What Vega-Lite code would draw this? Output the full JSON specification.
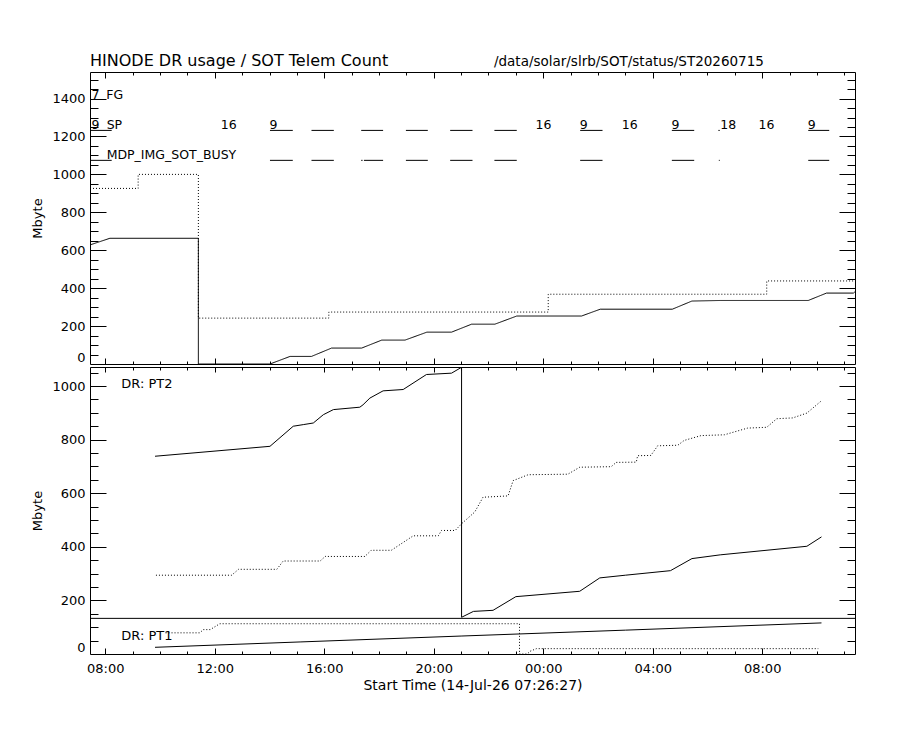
{
  "$schema": "https://vega.github.io/schema/vega-lite/v6.json",
  "background": "white",
  "padding": {"left": 31, "top": 52, "right": 10, "bottom": 10},
  "spacing": 1,
  "resolve": {"scale": {"x": "shared"}},
  "datasets": {
    "usage": [
      {"i": 1, "s": "solid", "t": "2026-07-14T07:26:27", "v": 628},
      {"i": 2, "s": "solid", "t": "2026-07-14T08:10:00", "v": 663},
      {"i": 3, "s": "solid", "t": "2026-07-14T11:24:00", "v": 663},
      {"i": 4, "s": "solid", "t": "2026-07-14T11:24:00", "v": 0},
      {"i": 5, "s": "solid", "t": "2026-07-14T14:01:00", "v": 0},
      {"i": 6, "s": "solid", "t": "2026-07-14T14:45:00", "v": 40},
      {"i": 7, "s": "solid", "t": "2026-07-14T15:32:00", "v": 40},
      {"i": 8, "s": "solid", "t": "2026-07-14T16:16:00", "v": 84},
      {"i": 9, "s": "solid", "t": "2026-07-14T17:22:00", "v": 84},
      {"i": 10, "s": "solid", "t": "2026-07-14T18:06:00", "v": 126},
      {"i": 11, "s": "solid", "t": "2026-07-14T18:57:00", "v": 126},
      {"i": 12, "s": "solid", "t": "2026-07-14T19:45:00", "v": 168},
      {"i": 13, "s": "solid", "t": "2026-07-14T20:39:00", "v": 168},
      {"i": 14, "s": "solid", "t": "2026-07-14T21:23:00", "v": 210},
      {"i": 15, "s": "solid", "t": "2026-07-14T22:14:00", "v": 210},
      {"i": 16, "s": "solid", "t": "2026-07-14T23:02:00", "v": 253},
      {"i": 17, "s": "solid", "t": "2026-07-15T01:24:00", "v": 253},
      {"i": 18, "s": "solid", "t": "2026-07-15T02:05:00", "v": 289},
      {"i": 19, "s": "solid", "t": "2026-07-15T04:43:00", "v": 289},
      {"i": 20, "s": "solid", "t": "2026-07-15T05:26:00", "v": 332},
      {"i": 21, "s": "solid", "t": "2026-07-15T06:28:00", "v": 335},
      {"i": 22, "s": "solid", "t": "2026-07-15T09:41:00", "v": 335},
      {"i": 23, "s": "solid", "t": "2026-07-15T10:21:00", "v": 374},
      {"i": 24, "s": "solid", "t": "2026-07-15T11:20:00", "v": 374},
      {"i": 25, "s": "solid", "t": "2026-07-15T11:23:30", "v": 381},
      {"i": 1, "s": "dotted", "t": "2026-07-14T07:26:27", "v": 926},
      {"i": 2, "s": "dotted", "t": "2026-07-14T09:12:00", "v": 926},
      {"i": 3, "s": "dotted", "t": "2026-07-14T09:12:00", "v": 1000},
      {"i": 4, "s": "dotted", "t": "2026-07-14T11:24:00", "v": 1000},
      {"i": 5, "s": "dotted", "t": "2026-07-14T11:24:00", "v": 242},
      {"i": 6, "s": "dotted", "t": "2026-07-14T16:10:00", "v": 242},
      {"i": 7, "s": "dotted", "t": "2026-07-14T16:10:00", "v": 274},
      {"i": 8, "s": "dotted", "t": "2026-07-15T00:11:00", "v": 274},
      {"i": 9, "s": "dotted", "t": "2026-07-15T00:11:00", "v": 368},
      {"i": 10, "s": "dotted", "t": "2026-07-15T08:10:00", "v": 368},
      {"i": 11, "s": "dotted", "t": "2026-07-15T08:10:00", "v": 438},
      {"i": 12, "s": "dotted", "t": "2026-07-15T11:23:30", "v": 438}
    ],
    "spans": [
      {"row": "SP", "t": "2026-07-14T07:26:27", "t2": "2026-07-14T08:14:00", "v": 1232},
      {"row": "SP", "t": "2026-07-14T14:01:00", "t2": "2026-07-14T14:51:00", "v": 1232},
      {"row": "SP", "t": "2026-07-14T15:32:00", "t2": "2026-07-14T16:21:00", "v": 1232},
      {"row": "SP", "t": "2026-07-14T17:21:00", "t2": "2026-07-14T18:09:00", "v": 1232},
      {"row": "SP", "t": "2026-07-14T18:59:00", "t2": "2026-07-14T19:47:00", "v": 1232},
      {"row": "SP", "t": "2026-07-14T20:36:00", "t2": "2026-07-14T21:25:00", "v": 1232},
      {"row": "SP", "t": "2026-07-14T22:13:00", "t2": "2026-07-14T23:02:00", "v": 1232},
      {"row": "SP", "t": "2026-07-15T01:21:00", "t2": "2026-07-15T02:10:00", "v": 1232},
      {"row": "SP", "t": "2026-07-15T04:42:00", "t2": "2026-07-15T05:31:00", "v": 1232},
      {"row": "SP", "t": "2026-07-15T06:24:00", "t2": "2026-07-15T06:27:00", "v": 1232},
      {"row": "SP", "t": "2026-07-15T09:41:00", "t2": "2026-07-15T10:27:00", "v": 1232},
      {"row": "BUSY", "t": "2026-07-14T07:26:27", "t2": "2026-07-14T08:14:00", "v": 1074},
      {"row": "BUSY", "t": "2026-07-14T14:01:00", "t2": "2026-07-14T14:51:00", "v": 1074},
      {"row": "BUSY", "t": "2026-07-14T15:32:00", "t2": "2026-07-14T16:21:00", "v": 1074},
      {"row": "BUSY", "t": "2026-07-14T17:21:00", "t2": "2026-07-14T17:24:00", "v": 1074},
      {"row": "BUSY", "t": "2026-07-14T17:27:00", "t2": "2026-07-14T18:09:00", "v": 1074},
      {"row": "BUSY", "t": "2026-07-14T18:59:00", "t2": "2026-07-14T19:47:00", "v": 1074},
      {"row": "BUSY", "t": "2026-07-14T20:36:00", "t2": "2026-07-14T21:25:00", "v": 1074},
      {"row": "BUSY", "t": "2026-07-14T22:13:00", "t2": "2026-07-14T23:02:00", "v": 1074},
      {"row": "BUSY", "t": "2026-07-15T01:21:00", "t2": "2026-07-15T02:10:00", "v": 1074},
      {"row": "BUSY", "t": "2026-07-15T04:42:00", "t2": "2026-07-15T05:31:00", "v": 1074},
      {"row": "BUSY", "t": "2026-07-15T06:25:00", "t2": "2026-07-15T06:27:00", "v": 1074},
      {"row": "BUSY", "t": "2026-07-15T09:41:00", "t2": "2026-07-15T10:27:00", "v": 1074}
    ],
    "counts": [
      {"txt": "7", "t": "2026-07-14T07:29:30", "v": 1395},
      {"txt": "9", "t": "2026-07-14T07:29:30", "v": 1238},
      {"txt": "16", "t": "2026-07-14T12:13:00", "v": 1238},
      {"txt": "9", "t": "2026-07-14T14:00:00", "v": 1238},
      {"txt": "16", "t": "2026-07-14T23:43:00", "v": 1238},
      {"txt": "9", "t": "2026-07-15T01:20:00", "v": 1238},
      {"txt": "16", "t": "2026-07-15T02:52:00", "v": 1238},
      {"txt": "9", "t": "2026-07-15T04:41:00", "v": 1238},
      {"txt": "18", "t": "2026-07-15T06:28:00", "v": 1238},
      {"txt": "16", "t": "2026-07-15T07:52:00", "v": 1238},
      {"txt": "9", "t": "2026-07-15T09:40:00", "v": 1238},
      {"txt": "FG", "t": "2026-07-14T08:02:00", "v": 1395},
      {"txt": "SP", "t": "2026-07-14T08:03:00", "v": 1238},
      {"txt": "MDP_IMG_SOT_BUSY", "t": "2026-07-14T08:03:00", "v": 1081}
    ],
    "heading": [
      {"txt": "HINODE DR usage / SOT Telem Count", "t": "2026-07-14T07:26:27", "v": 1570}
    ],
    "filepath": [
      {"txt": "/data/solar/slrb/SOT/status/ST20260715", "t": "2026-07-14T22:12:00", "v": 1570}
    ],
    "drdata": [
      {"i": 1, "s": "pt2_solid", "t": "2026-07-14T09:49:00", "v": 738},
      {"i": 2, "s": "pt2_solid", "t": "2026-07-14T14:01:00", "v": 775},
      {"i": 3, "s": "pt2_solid", "t": "2026-07-14T14:52:00", "v": 850},
      {"i": 4, "s": "pt2_solid", "t": "2026-07-14T15:14:00", "v": 856},
      {"i": 5, "s": "pt2_solid", "t": "2026-07-14T15:36:00", "v": 862},
      {"i": 6, "s": "pt2_solid", "t": "2026-07-14T15:58:00", "v": 893},
      {"i": 7, "s": "pt2_solid", "t": "2026-07-14T16:20:00", "v": 912},
      {"i": 8, "s": "pt2_solid", "t": "2026-07-14T17:18:00", "v": 921},
      {"i": 9, "s": "pt2_solid", "t": "2026-07-14T17:25:00", "v": 930},
      {"i": 10, "s": "pt2_solid", "t": "2026-07-14T17:40:00", "v": 955},
      {"i": 11, "s": "pt2_solid", "t": "2026-07-14T18:09:00", "v": 982},
      {"i": 12, "s": "pt2_solid", "t": "2026-07-14T18:53:00", "v": 987},
      {"i": 13, "s": "pt2_solid", "t": "2026-07-14T19:44:00", "v": 1043},
      {"i": 14, "s": "pt2_solid", "t": "2026-07-14T20:39:00", "v": 1048},
      {"i": 15, "s": "pt2_solid", "t": "2026-07-14T21:01:00", "v": 1070},
      {"i": 16, "s": "pt2_solid", "t": "2026-07-14T21:01:00", "v": 137},
      {"i": 17, "s": "pt2_solid", "t": "2026-07-14T21:27:00", "v": 159},
      {"i": 18, "s": "pt2_solid", "t": "2026-07-14T22:10:00", "v": 163},
      {"i": 19, "s": "pt2_solid", "t": "2026-07-14T23:00:00", "v": 214},
      {"i": 20, "s": "pt2_solid", "t": "2026-07-15T01:20:00", "v": 234},
      {"i": 21, "s": "pt2_solid", "t": "2026-07-15T02:04:00", "v": 284},
      {"i": 22, "s": "pt2_solid", "t": "2026-07-15T03:00:00", "v": 294},
      {"i": 23, "s": "pt2_solid", "t": "2026-07-15T04:39:00", "v": 311},
      {"i": 24, "s": "pt2_solid", "t": "2026-07-15T05:26:00", "v": 356},
      {"i": 25, "s": "pt2_solid", "t": "2026-07-15T06:28:00", "v": 370},
      {"i": 26, "s": "pt2_solid", "t": "2026-07-15T09:38:00", "v": 402},
      {"i": 27, "s": "pt2_solid", "t": "2026-07-15T10:10:00", "v": 437},
      {"i": 1, "s": "pt2_dot", "t": "2026-07-14T09:51:00", "v": 294},
      {"i": 2, "s": "pt2_dot", "t": "2026-07-14T12:37:00", "v": 294},
      {"i": 3, "s": "pt2_dot", "t": "2026-07-14T12:52:00", "v": 316},
      {"i": 4, "s": "pt2_dot", "t": "2026-07-14T14:16:00", "v": 316},
      {"i": 5, "s": "pt2_dot", "t": "2026-07-14T14:30:00", "v": 347},
      {"i": 6, "s": "pt2_dot", "t": "2026-07-14T15:51:00", "v": 347},
      {"i": 7, "s": "pt2_dot", "t": "2026-07-14T16:02:00", "v": 364},
      {"i": 8, "s": "pt2_dot", "t": "2026-07-14T17:29:00", "v": 364},
      {"i": 9, "s": "pt2_dot", "t": "2026-07-14T17:43:00", "v": 387},
      {"i": 10, "s": "pt2_dot", "t": "2026-07-14T18:27:00", "v": 387},
      {"i": 11, "s": "pt2_dot", "t": "2026-07-14T19:15:00", "v": 441},
      {"i": 12, "s": "pt2_dot", "t": "2026-07-14T20:10:00", "v": 441},
      {"i": 13, "s": "pt2_dot", "t": "2026-07-14T20:17:00", "v": 461},
      {"i": 14, "s": "pt2_dot", "t": "2026-07-14T20:47:00", "v": 461},
      {"i": 15, "s": "pt2_dot", "t": "2026-07-14T21:01:00", "v": 486},
      {"i": 16, "s": "pt2_dot", "t": "2026-07-14T21:30:00", "v": 530},
      {"i": 17, "s": "pt2_dot", "t": "2026-07-14T21:48:00", "v": 585},
      {"i": 18, "s": "pt2_dot", "t": "2026-07-14T22:43:00", "v": 590},
      {"i": 19, "s": "pt2_dot", "t": "2026-07-14T22:54:00", "v": 647},
      {"i": 20, "s": "pt2_dot", "t": "2026-07-14T23:27:00", "v": 669},
      {"i": 21, "s": "pt2_dot", "t": "2026-07-15T00:54:00", "v": 671},
      {"i": 22, "s": "pt2_dot", "t": "2026-07-15T01:20:00", "v": 697},
      {"i": 23, "s": "pt2_dot", "t": "2026-07-15T02:29:00", "v": 699},
      {"i": 24, "s": "pt2_dot", "t": "2026-07-15T02:40:00", "v": 715},
      {"i": 25, "s": "pt2_dot", "t": "2026-07-15T03:24:00", "v": 716},
      {"i": 26, "s": "pt2_dot", "t": "2026-07-15T03:27:00", "v": 740},
      {"i": 27, "s": "pt2_dot", "t": "2026-07-15T03:56:00", "v": 741},
      {"i": 28, "s": "pt2_dot", "t": "2026-07-15T04:11:00", "v": 777},
      {"i": 29, "s": "pt2_dot", "t": "2026-07-15T04:55:00", "v": 779},
      {"i": 30, "s": "pt2_dot", "t": "2026-07-15T05:09:00", "v": 797},
      {"i": 31, "s": "pt2_dot", "t": "2026-07-15T05:46:00", "v": 815},
      {"i": 32, "s": "pt2_dot", "t": "2026-07-15T06:37:00", "v": 818},
      {"i": 33, "s": "pt2_dot", "t": "2026-07-15T07:28:00", "v": 843},
      {"i": 34, "s": "pt2_dot", "t": "2026-07-15T08:10:00", "v": 846},
      {"i": 35, "s": "pt2_dot", "t": "2026-07-15T08:32:00", "v": 878},
      {"i": 36, "s": "pt2_dot", "t": "2026-07-15T09:07:00", "v": 881},
      {"i": 37, "s": "pt2_dot", "t": "2026-07-15T09:38:00", "v": 899},
      {"i": 38, "s": "pt2_dot", "t": "2026-07-15T10:10:00", "v": 945},
      {"i": 1, "s": "pt1_solid", "t": "2026-07-14T09:49:00", "v": 25},
      {"i": 2, "s": "pt1_solid", "t": "2026-07-14T15:07:00", "v": 45},
      {"i": 3, "s": "pt1_solid", "t": "2026-07-14T21:00:00", "v": 67},
      {"i": 4, "s": "pt1_solid", "t": "2026-07-15T03:00:00", "v": 89},
      {"i": 5, "s": "pt1_solid", "t": "2026-07-15T10:10:00", "v": 116},
      {"i": 1, "s": "pt1_dot", "t": "2026-07-14T10:12:00", "v": 79},
      {"i": 2, "s": "pt1_dot", "t": "2026-07-14T11:27:00", "v": 79},
      {"i": 3, "s": "pt1_dot", "t": "2026-07-14T11:35:00", "v": 91},
      {"i": 4, "s": "pt1_dot", "t": "2026-07-14T11:50:00", "v": 91},
      {"i": 5, "s": "pt1_dot", "t": "2026-07-14T12:11:00", "v": 113},
      {"i": 6, "s": "pt1_dot", "t": "2026-07-14T23:08:00", "v": 113},
      {"i": 7, "s": "pt1_dot", "t": "2026-07-14T23:08:00", "v": 0},
      {"i": 8, "s": "pt1_dot", "t": "2026-07-14T23:25:00", "v": 0},
      {"i": 9, "s": "pt1_dot", "t": "2026-07-14T23:31:00", "v": 10},
      {"i": 10, "s": "pt1_dot", "t": "2026-07-14T23:45:00", "v": 20},
      {"i": 11, "s": "pt1_dot", "t": "2026-07-15T10:03:00", "v": 20}
    ],
    "divider": [{"v": 133}],
    "drlab": [
      {"txt": "DR: PT2", "t": "2026-07-14T08:35:00", "v": 994},
      {"txt": "DR: PT1", "t": "2026-07-14T08:35:00", "v": 52}
    ]
  },
  "vconcat": [
    {
      "width": 765,
      "height": 292,
      "resolve": {"axis": {"x": "independent", "y": "independent"}},
      "layer": [
        {
          "data": {"name": "usage"},
          "mark": {"type": "line", "color": "black", "strokeWidth": 1, "clip": true},
          "encoding": {
            "x": {"field": "t", "type": "temporal", "scale": {"nice": false},
              "axis": {"orient": "bottom", "labels": false, "title": null, "tickSize": -6, "values": [
                {"year": 2026, "month": 7, "date": 14, "hours": 8}, {"year": 2026, "month": 7, "date": 14, "hours": 12},
                {"year": 2026, "month": 7, "date": 14, "hours": 16}, {"year": 2026, "month": 7, "date": 14, "hours": 20},
                {"year": 2026, "month": 7, "date": 15, "hours": 0}, {"year": 2026, "month": 7, "date": 15, "hours": 4},
                {"year": 2026, "month": 7, "date": 15, "hours": 8}]}},
            "y": {"field": "v", "type": "quantitative",
              "scale": {"domain": [0, 1540], "nice": false, "zero": false},
              "axis": {"orient": "left", "values": [0, 200, 400, 600, 800, 1000, 1200, 1400], "format": "d", "ticks": false, "labelPadding": 5, "labelFlush": true, "title": "Mbyte", "titlePadding": 7}},
            "strokeDash": {"field": "s", "type": "nominal", "scale": {"domain": ["solid", "dotted"], "range": [[1, 0], [1, 2]]}, "legend": null},
            "order": {"field": "i", "type": "quantitative"}
          }
        },
        {
          "data": {"name": "spans", "format": {"parse": {"t": "date", "t2": "date"}}},
          "mark": {"type": "rule", "color": "black", "strokeWidth": 1},
          "encoding": {
            "x": {"field": "t", "type": "temporal",
              "axis": {"orient": "bottom", "labels": false, "title": null, "tickSize": -3, "values": [
                {"year": 2026, "month": 7, "date": 14, "hours": 8}, {"year": 2026, "month": 7, "date": 14, "hours": 9},
                {"year": 2026, "month": 7, "date": 14, "hours": 10}, {"year": 2026, "month": 7, "date": 14, "hours": 11},
                {"year": 2026, "month": 7, "date": 14, "hours": 12}, {"year": 2026, "month": 7, "date": 14, "hours": 13},
                {"year": 2026, "month": 7, "date": 14, "hours": 14}, {"year": 2026, "month": 7, "date": 14, "hours": 15},
                {"year": 2026, "month": 7, "date": 14, "hours": 16}, {"year": 2026, "month": 7, "date": 14, "hours": 17},
                {"year": 2026, "month": 7, "date": 14, "hours": 18}, {"year": 2026, "month": 7, "date": 14, "hours": 19},
                {"year": 2026, "month": 7, "date": 14, "hours": 20}, {"year": 2026, "month": 7, "date": 14, "hours": 21},
                {"year": 2026, "month": 7, "date": 14, "hours": 22}, {"year": 2026, "month": 7, "date": 14, "hours": 23},
                {"year": 2026, "month": 7, "date": 15, "hours": 0}, {"year": 2026, "month": 7, "date": 15, "hours": 1},
                {"year": 2026, "month": 7, "date": 15, "hours": 2}, {"year": 2026, "month": 7, "date": 15, "hours": 3},
                {"year": 2026, "month": 7, "date": 15, "hours": 4}, {"year": 2026, "month": 7, "date": 15, "hours": 5},
                {"year": 2026, "month": 7, "date": 15, "hours": 6}, {"year": 2026, "month": 7, "date": 15, "hours": 7},
                {"year": 2026, "month": 7, "date": 15, "hours": 8}, {"year": 2026, "month": 7, "date": 15, "hours": 9},
                {"year": 2026, "month": 7, "date": 15, "hours": 10}, {"year": 2026, "month": 7, "date": 15, "hours": 11}]}},
            "x2": {"field": "t2"},
            "y": {"field": "v", "type": "quantitative",
              "axis": {"orient": "left", "values": [200, 400, 600, 800, 1000, 1200, 1400], "labels": false, "tickSize": -16, "title": null}}
          }
        },
        {
          "data": {"name": "counts"},
          "mark": {"type": "text", "align": "left", "baseline": "alphabetic", "font": "DejaVu Sans", "fontSize": 12.5, "color": "black"},
          "encoding": {
            "x": {"field": "t", "type": "temporal",
              "axis": {"orient": "top", "labels": false, "title": null, "tickSize": -6, "values": [
                {"year": 2026, "month": 7, "date": 14, "hours": 8}, {"year": 2026, "month": 7, "date": 14, "hours": 12},
                {"year": 2026, "month": 7, "date": 14, "hours": 16}, {"year": 2026, "month": 7, "date": 14, "hours": 20},
                {"year": 2026, "month": 7, "date": 15, "hours": 0}, {"year": 2026, "month": 7, "date": 15, "hours": 4},
                {"year": 2026, "month": 7, "date": 15, "hours": 8}]}},
            "y": {"field": "v", "type": "quantitative",
              "axis": {"orient": "left", "values": [50, 100, 150, 250, 300, 350, 450, 500, 550, 650, 700, 750, 850, 900, 950, 1050, 1100, 1150, 1250, 1300, 1350, 1450, 1500], "labels": false, "tickSize": -8, "title": null}},
            "text": {"field": "txt"}
          }
        },
        {
          "data": {"name": "heading"},
          "mark": {"type": "text", "align": "left", "baseline": "alphabetic", "font": "DejaVu Sans", "fontSize": 16, "color": "black"},
          "encoding": {
            "x": {"field": "t", "type": "temporal",
              "axis": {"orient": "top", "labels": false, "title": null, "tickSize": -3, "values": [
                {"year": 2026, "month": 7, "date": 14, "hours": 8}, {"year": 2026, "month": 7, "date": 14, "hours": 9},
                {"year": 2026, "month": 7, "date": 14, "hours": 10}, {"year": 2026, "month": 7, "date": 14, "hours": 11},
                {"year": 2026, "month": 7, "date": 14, "hours": 12}, {"year": 2026, "month": 7, "date": 14, "hours": 13},
                {"year": 2026, "month": 7, "date": 14, "hours": 14}, {"year": 2026, "month": 7, "date": 14, "hours": 15},
                {"year": 2026, "month": 7, "date": 14, "hours": 16}, {"year": 2026, "month": 7, "date": 14, "hours": 17},
                {"year": 2026, "month": 7, "date": 14, "hours": 18}, {"year": 2026, "month": 7, "date": 14, "hours": 19},
                {"year": 2026, "month": 7, "date": 14, "hours": 20}, {"year": 2026, "month": 7, "date": 14, "hours": 21},
                {"year": 2026, "month": 7, "date": 14, "hours": 22}, {"year": 2026, "month": 7, "date": 14, "hours": 23},
                {"year": 2026, "month": 7, "date": 15, "hours": 0}, {"year": 2026, "month": 7, "date": 15, "hours": 1},
                {"year": 2026, "month": 7, "date": 15, "hours": 2}, {"year": 2026, "month": 7, "date": 15, "hours": 3},
                {"year": 2026, "month": 7, "date": 15, "hours": 4}, {"year": 2026, "month": 7, "date": 15, "hours": 5},
                {"year": 2026, "month": 7, "date": 15, "hours": 6}, {"year": 2026, "month": 7, "date": 15, "hours": 7},
                {"year": 2026, "month": 7, "date": 15, "hours": 8}, {"year": 2026, "month": 7, "date": 15, "hours": 9},
                {"year": 2026, "month": 7, "date": 15, "hours": 10}, {"year": 2026, "month": 7, "date": 15, "hours": 11}]}},
            "y": {"field": "v", "type": "quantitative",
              "axis": {"orient": "right", "values": [200, 400, 600, 800, 1000, 1200, 1400], "labels": false, "tickSize": -16, "title": null}},
            "text": {"field": "txt"}
          }
        },
        {
          "data": {"name": "filepath"},
          "mark": {"type": "text", "align": "left", "baseline": "alphabetic", "font": "DejaVu Sans", "fontSize": 13.5, "color": "black"},
          "encoding": {
            "x": {"field": "t", "type": "temporal", "axis": null},
            "y": {"field": "v", "type": "quantitative",
              "axis": {"orient": "right", "values": [50, 100, 150, 250, 300, 350, 450, 500, 550, 650, 700, 750, 850, 900, 950, 1050, 1100, 1150, 1250, 1300, 1350, 1450, 1500], "labels": false, "tickSize": -8, "title": null}},
            "text": {"field": "txt"}
          }
        }
      ]
    },
    {
      "width": 765,
      "height": 287,
      "resolve": {"axis": {"x": "independent", "y": "independent"}},
      "layer": [
        {
          "data": {"name": "drdata"},
          "transform": [{"filter": "datum.s == 'pt2_solid'"}],
          "mark": {"type": "line", "color": "black", "strokeWidth": 1, "clip": true},
          "encoding": {
            "x": {"field": "t", "type": "temporal", "scale": {"nice": false},
              "axis": {"orient": "bottom", "format": "%H:%M", "ticks": false, "labelPadding": 8, "title": "Start Time (14-Jul-26 07:26:27)", "titleFontSize": 14, "titlePadding": 3, "values": [
                {"year": 2026, "month": 7, "date": 14, "hours": 8}, {"year": 2026, "month": 7, "date": 14, "hours": 12},
                {"year": 2026, "month": 7, "date": 14, "hours": 16}, {"year": 2026, "month": 7, "date": 14, "hours": 20},
                {"year": 2026, "month": 7, "date": 15, "hours": 0}, {"year": 2026, "month": 7, "date": 15, "hours": 4},
                {"year": 2026, "month": 7, "date": 15, "hours": 8}]}},
            "y": {"field": "v", "type": "quantitative",
              "scale": {"domain": [0, 1071], "nice": false},
              "axis": {"orient": "left", "values": [0, 200, 400, 600, 800, 1000], "format": "d", "ticks": false, "labelPadding": 5, "labelFlush": true, "title": "Mbyte", "titlePadding": 7}},
            "order": {"field": "i", "type": "quantitative"}
          }
        },
        {
          "data": {"name": "drdata"},
          "transform": [{"filter": "datum.s == 'pt2_dot'"}],
          "mark": {"type": "line", "color": "black", "strokeWidth": 1, "strokeDash": [1, 2], "clip": true},
          "encoding": {
            "x": {"field": "t", "type": "temporal",
              "axis": {"orient": "bottom", "labels": false, "title": null, "tickSize": -6, "values": [
                {"year": 2026, "month": 7, "date": 14, "hours": 8}, {"year": 2026, "month": 7, "date": 14, "hours": 12},
                {"year": 2026, "month": 7, "date": 14, "hours": 16}, {"year": 2026, "month": 7, "date": 14, "hours": 20},
                {"year": 2026, "month": 7, "date": 15, "hours": 0}, {"year": 2026, "month": 7, "date": 15, "hours": 4},
                {"year": 2026, "month": 7, "date": 15, "hours": 8}]}},
            "y": {"field": "v", "type": "quantitative",
              "axis": {"orient": "left", "values": [200, 400, 600, 800, 1000], "labels": false, "tickSize": -16, "title": null}},
            "order": {"field": "i", "type": "quantitative"}
          }
        },
        {
          "data": {"name": "drdata"},
          "transform": [{"filter": "datum.s == 'pt1_solid'"}],
          "mark": {"type": "line", "color": "black", "strokeWidth": 1, "clip": true},
          "encoding": {
            "x": {"field": "t", "type": "temporal",
              "axis": {"orient": "bottom", "labels": false, "title": null, "tickSize": -3, "values": [
                {"year": 2026, "month": 7, "date": 14, "hours": 8}, {"year": 2026, "month": 7, "date": 14, "hours": 9},
                {"year": 2026, "month": 7, "date": 14, "hours": 10}, {"year": 2026, "month": 7, "date": 14, "hours": 11},
                {"year": 2026, "month": 7, "date": 14, "hours": 12}, {"year": 2026, "month": 7, "date": 14, "hours": 13},
                {"year": 2026, "month": 7, "date": 14, "hours": 14}, {"year": 2026, "month": 7, "date": 14, "hours": 15},
                {"year": 2026, "month": 7, "date": 14, "hours": 16}, {"year": 2026, "month": 7, "date": 14, "hours": 17},
                {"year": 2026, "month": 7, "date": 14, "hours": 18}, {"year": 2026, "month": 7, "date": 14, "hours": 19},
                {"year": 2026, "month": 7, "date": 14, "hours": 20}, {"year": 2026, "month": 7, "date": 14, "hours": 21},
                {"year": 2026, "month": 7, "date": 14, "hours": 22}, {"year": 2026, "month": 7, "date": 14, "hours": 23},
                {"year": 2026, "month": 7, "date": 15, "hours": 0}, {"year": 2026, "month": 7, "date": 15, "hours": 1},
                {"year": 2026, "month": 7, "date": 15, "hours": 2}, {"year": 2026, "month": 7, "date": 15, "hours": 3},
                {"year": 2026, "month": 7, "date": 15, "hours": 4}, {"year": 2026, "month": 7, "date": 15, "hours": 5},
                {"year": 2026, "month": 7, "date": 15, "hours": 6}, {"year": 2026, "month": 7, "date": 15, "hours": 7},
                {"year": 2026, "month": 7, "date": 15, "hours": 8}, {"year": 2026, "month": 7, "date": 15, "hours": 9},
                {"year": 2026, "month": 7, "date": 15, "hours": 10}, {"year": 2026, "month": 7, "date": 15, "hours": 11}]}},
            "y": {"field": "v", "type": "quantitative",
              "axis": {"orient": "left", "values": [50, 100, 150, 250, 300, 350, 450, 500, 550, 650, 700, 750, 850, 900, 950, 1050], "labels": false, "tickSize": -8, "title": null}},
            "order": {"field": "i", "type": "quantitative"}
          }
        },
        {
          "data": {"name": "drdata"},
          "transform": [{"filter": "datum.s == 'pt1_dot'"}],
          "mark": {"type": "line", "color": "black", "strokeWidth": 1, "strokeDash": [1, 2], "clip": true},
          "encoding": {
            "x": {"field": "t", "type": "temporal",
              "axis": {"orient": "top", "labels": false, "title": null, "tickSize": -5, "values": [
                {"year": 2026, "month": 7, "date": 14, "hours": 8}, {"year": 2026, "month": 7, "date": 14, "hours": 12},
                {"year": 2026, "month": 7, "date": 14, "hours": 16}, {"year": 2026, "month": 7, "date": 14, "hours": 20},
                {"year": 2026, "month": 7, "date": 15, "hours": 0}, {"year": 2026, "month": 7, "date": 15, "hours": 4},
                {"year": 2026, "month": 7, "date": 15, "hours": 8}]}},
            "y": {"field": "v", "type": "quantitative",
              "axis": {"orient": "right", "values": [200, 400, 600, 800, 1000], "labels": false, "tickSize": -16, "title": null}},
            "order": {"field": "i", "type": "quantitative"}
          }
        },
        {
          "data": {"name": "divider"},
          "mark": {"type": "rule", "color": "black", "strokeWidth": 1},
          "encoding": {
            "y": {"field": "v", "type": "quantitative",
              "axis": {"orient": "right", "values": [50, 100, 150, 250, 300, 350, 450, 500, 550, 650, 700, 750, 850, 900, 950, 1050], "labels": false, "tickSize": -8, "title": null}}
          }
        },
        {
          "data": {"name": "drlab"},
          "mark": {"type": "text", "align": "left", "baseline": "alphabetic", "font": "DejaVu Sans", "fontSize": 13, "color": "black"},
          "encoding": {
            "x": {"field": "t", "type": "temporal",
              "axis": {"orient": "top", "labels": false, "title": null, "tickSize": -3, "values": [
                {"year": 2026, "month": 7, "date": 14, "hours": 8}, {"year": 2026, "month": 7, "date": 14, "hours": 9},
                {"year": 2026, "month": 7, "date": 14, "hours": 10}, {"year": 2026, "month": 7, "date": 14, "hours": 11},
                {"year": 2026, "month": 7, "date": 14, "hours": 12}, {"year": 2026, "month": 7, "date": 14, "hours": 13},
                {"year": 2026, "month": 7, "date": 14, "hours": 14}, {"year": 2026, "month": 7, "date": 14, "hours": 15},
                {"year": 2026, "month": 7, "date": 14, "hours": 16}, {"year": 2026, "month": 7, "date": 14, "hours": 17},
                {"year": 2026, "month": 7, "date": 14, "hours": 18}, {"year": 2026, "month": 7, "date": 14, "hours": 19},
                {"year": 2026, "month": 7, "date": 14, "hours": 20}, {"year": 2026, "month": 7, "date": 14, "hours": 21},
                {"year": 2026, "month": 7, "date": 14, "hours": 22}, {"year": 2026, "month": 7, "date": 14, "hours": 23},
                {"year": 2026, "month": 7, "date": 15, "hours": 0}, {"year": 2026, "month": 7, "date": 15, "hours": 1},
                {"year": 2026, "month": 7, "date": 15, "hours": 2}, {"year": 2026, "month": 7, "date": 15, "hours": 3},
                {"year": 2026, "month": 7, "date": 15, "hours": 4}, {"year": 2026, "month": 7, "date": 15, "hours": 5},
                {"year": 2026, "month": 7, "date": 15, "hours": 6}, {"year": 2026, "month": 7, "date": 15, "hours": 7},
                {"year": 2026, "month": 7, "date": 15, "hours": 8}, {"year": 2026, "month": 7, "date": 15, "hours": 9},
                {"year": 2026, "month": 7, "date": 15, "hours": 10}, {"year": 2026, "month": 7, "date": 15, "hours": 11}]}},
            "y": {"field": "v", "type": "quantitative", "axis": null},
            "text": {"field": "txt"}
          }
        }
      ]
    }
  ],
  "config": {
    "font": "DejaVu Sans",
    "view": {"stroke": "black", "strokeWidth": 1},
    "axis": {
      "domain": false,
      "grid": false,
      "tickColor": "black",
      "tickWidth": 1,
      "labelColor": "black",
      "labelFont": "DejaVu Sans",
      "labelFontSize": 13,
      "titleColor": "black",
      "titleFont": "DejaVu Sans",
      "titleFontSize": 13,
      "titleFontWeight": "normal"
    }
  }
}
